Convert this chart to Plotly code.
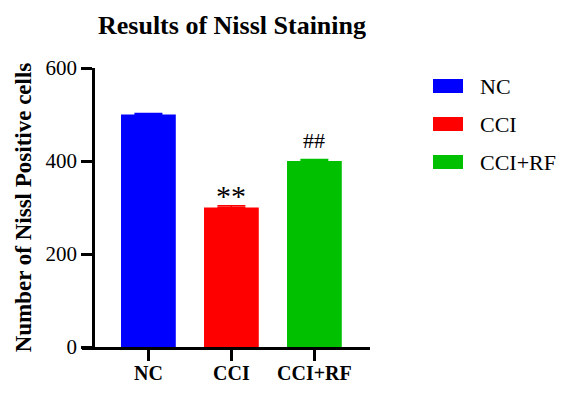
import plotly.graph_objects as go

categories = ["NC", "CCI", "CCI+RF"]
values = [500, 300, 400]
errors = [2, 4, 3]
sig_labels = ["", "**", "##"]
sig_sizes = [22, 30, 22]
sig_shift = [0, -8, 5]
colors = ["#0000FF", "#FF0000", "#00C000"]
y_ticks = [0, 200, 400, 600]

FONT = "Liberation Serif, Times New Roman, serif"
OFF = 8  # page body margin offset

fig = go.Figure()
for c, v, e, col in zip(categories, values, errors, colors):
    fig.add_trace(go.Bar(
        x=[c], y=[v], width=0.66, name=c, showlegend=False,
        marker=dict(color=col, line=dict(width=0)),
        error_y=dict(type="data", array=[e], arrayminus=[0], symmetric=False,
                     color=col, thickness=1.5, width=14),
    ))

ann = []
for c, v, e, s, fs, sh in zip(categories, values, errors, sig_labels, sig_sizes, sig_shift):
    if s:
        ann.append(dict(x=c, y=v + e, xref="x", yref="y", text=s, showarrow=False,
                        yanchor="bottom", yshift=sh,
                        font=dict(family=FONT, size=fs, color="black")))

# plot area in page pixels: x 82..370, y 68..347
L = 82 - OFF
T = 68 - OFF
R = 566 - (370 - OFF)
B = 394 - (347 - OFF)
PW, PH = 566 - L - R, 394 - T - B
def px2x(px): return (px - OFF - L) / PW
def py2y(py): return (394 - B - (py - OFF)) / PH

shapes = []
for i, (c, col) in enumerate(zip(categories, colors)):
    yc = 86 + i * 38
    shapes.append(dict(type="rect", xref="paper", yref="paper",
                       x0=px2x(433), x1=px2x(463), y0=py2y(yc + 7), y1=py2y(yc - 7),
                       fillcolor=col, line=dict(width=0)))
    ann.append(dict(x=px2x(478), y=py2y(yc), xref="paper", yref="paper", text=c,
                    showarrow=False, xanchor="left", yanchor="middle",
                    font=dict(family=FONT, size=22, color="black")))

fig.update_layout(
    width=566, height=394,
    margin=dict(l=L, r=R, t=T, b=B),
    paper_bgcolor="white", plot_bgcolor="white",
    barmode="overlay",
    title=dict(text="<b>Results of Nissl Staining</b>", x=(232 - OFF) / 566, xref="container",
               xanchor="center", y=1 - (25 - OFF) / 394, yref="container", yanchor="middle",
               font=dict(family=FONT, size=26, color="black")),
    font=dict(family=FONT, color="black"),
    xaxis=dict(type="category", categoryorder="array", categoryarray=categories,
               range=[-0.8, 2.67], showline=True, linecolor="black", linewidth=2.5,
               ticks="outside", ticklen=11, tickwidth=2.5, tickcolor="black",
               ticklabelstandoff=-5,
               tickvals=categories, ticktext=["<b>%s</b>" % c for c in categories],
               tickfont=dict(family=FONT, size=20, color="black"),
               showgrid=False, zeroline=False),
    yaxis=dict(range=[0, 600], tickvals=y_ticks, anchor="free", position=px2x(93),
               showline=True, linecolor="black", linewidth=2.5,
               ticks="outside", ticklen=11, tickwidth=2.5, tickcolor="black",
               tickfont=dict(family=FONT, size=21, color="black"),
               showgrid=False, zeroline=False,
               title=dict(text="<b>Number of Nissl Positive cells</b>", standoff=6,
                          font=dict(family=FONT, size=23, color="black"))),
    shapes=shapes, annotations=ann,
)

fig.write_html("out.html")
